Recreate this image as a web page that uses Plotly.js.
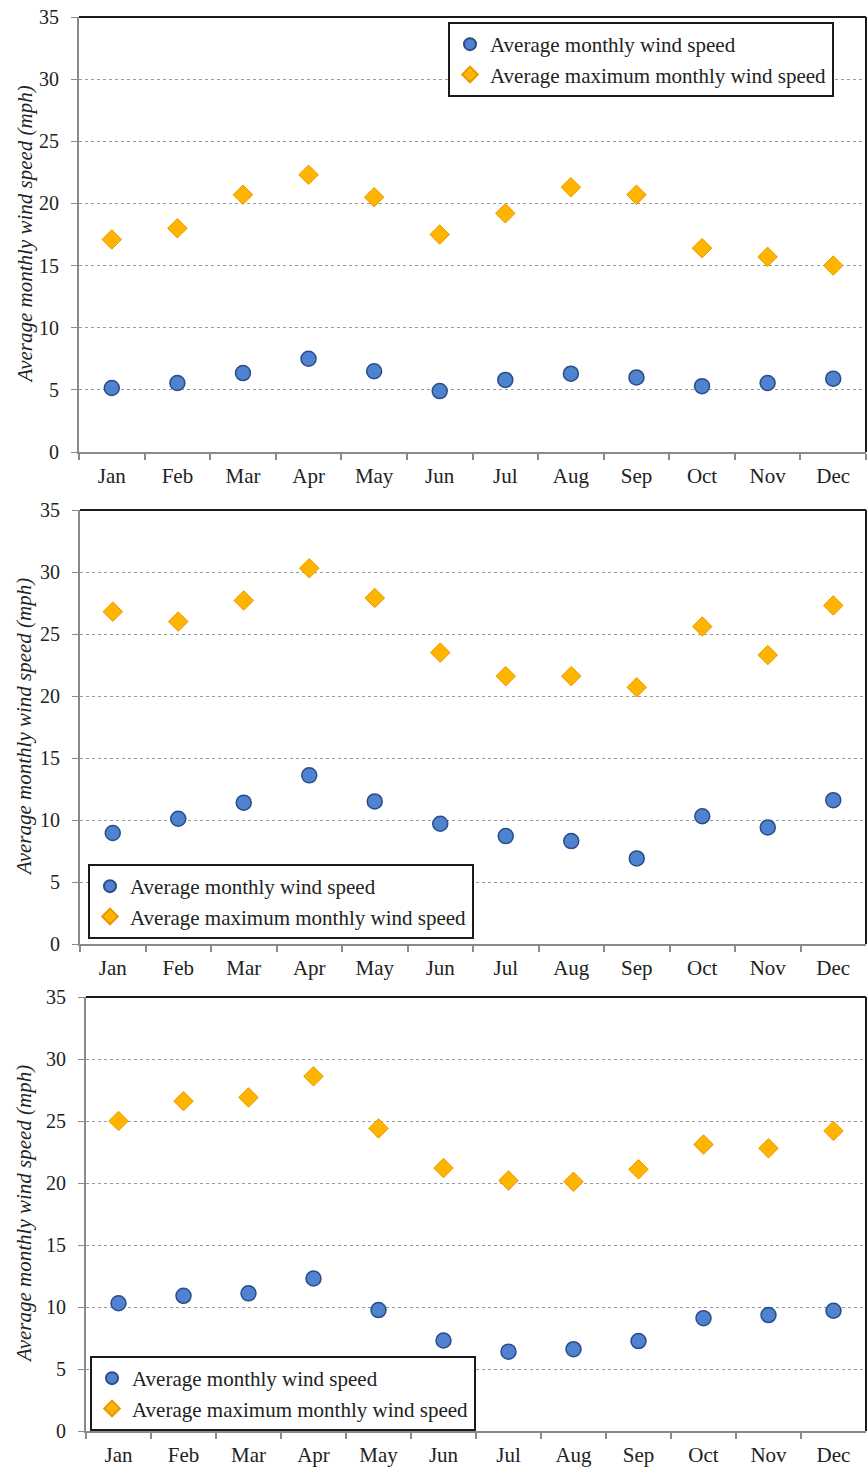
<!DOCTYPE html>
<html>
<head>
<meta charset="utf-8">
<script src="https://cdn.plot.ly/plotly-3.0.1.min.js"></script>
<style>html,body{margin:0;padding:0;background:#fff;}#chart{width:867px;height:1479px;}</style>
</head>
<body>
<div id="chart"></div>
<script>
const months = ["Jan","Feb","Mar","Apr","May","Jun","Jul","Aug","Sep","Oct","Nov","Dec"];
const yTicks = [0,5,10,15,20,25,30,35];
const seriesNames = ["Average monthly wind speed","Average maximum monthly wind speed"];
const yTitle = "Average monthly wind speed (mph)";

const avg1 = [5.15,5.55,6.35,7.5,6.5,4.9,5.8,6.3,6.0,5.3,5.55,5.9];
const max1 = [17.1,18.0,20.7,22.3,20.5,17.5,19.2,21.3,20.7,16.4,15.7,15.0];
const avg2 = [8.95,10.1,11.4,13.6,11.5,9.7,8.7,8.3,6.9,10.3,9.4,11.6];
const max2 = [26.8,26.0,27.7,30.3,27.9,23.5,21.6,21.6,20.7,25.6,23.3,27.3];
const avg3 = [10.3,10.9,11.1,12.3,9.75,7.3,6.4,6.6,7.25,9.1,9.35,9.7];
const max3 = [25.0,26.6,26.9,28.6,24.4,21.2,20.2,20.1,21.1,23.1,22.8,24.2];

const FONT = "Liberation Serif";
const W = 867, H = 1479;
const panels = [
  {avg: avg1, max: max1, left: 79, top: 17, bottom: 452},
  {avg: avg2, max: max2, left: 80, top: 510, bottom: 944},
  {avg: avg3, max: max3, left: 86, top: 997, bottom: 1431}
];
const legendPos = [
  {x: 448, y: 22, yanchor: "top"},
  {x: 88, y: 939, yanchor: "bottom"},
  {x: 90, y: 1431, yanchor: "bottom"}
];

const data = [];
const layout = {
  width: W, height: H,
  margin: {l: 0, r: 0, t: 0, b: 0},
  paper_bgcolor: "#fff", plot_bgcolor: "#fff",
  font: {family: FONT, size: 20, color: "#222"},
  showlegend: true,
  shapes: [], annotations: []
};

panels.forEach((p, i) => {
  const n = i === 0 ? "" : String(i + 1);
  const xa = "x" + n, ya = "y" + n;
  const lg = "legend" + n;
  data.push({
    type: "scatter", mode: "markers", x: months, y: p.avg,
    xaxis: xa, yaxis: ya, name: seriesNames[0], legend: lg, legendgroup: "a" + i,
    marker: {symbol: "circle", size: 15, color: "#4f82d1", line: {color: "#2b4d86", width: 1.5}}
  });
  data.push({
    type: "scatter", mode: "markers", x: months, y: p.max,
    xaxis: xa, yaxis: ya, name: seriesNames[1], legend: lg, legendgroup: "b" + i,
    marker: {symbol: "diamond", size: 15, color: "#ffb400", line: {color: "#e89a00", width: 1}}
  });
  const dom = [1 - p.bottom / H, 1 - p.top / H];
  layout["xaxis" + n] = {
    domain: [p.left / W, 866 / W], anchor: ya,
    type: "category", range: [-0.5, 11.5], fixedrange: true,
    showline: true, linecolor: "#8a8a8a", linewidth: 2,
    ticks: "outside", tickson: "boundaries", ticklen: 6, tickcolor: "#8a8a8a", tickwidth: 2,
    ticklabelstandoff: 4,
    showgrid: false, zeroline: false,
    tickfont: {family: FONT, size: 21, color: "#222"}
  };
  layout["yaxis" + n] = {
    domain: dom, anchor: xa, range: [0, 35], tickvals: yTicks, fixedrange: true,
    showline: true, linecolor: "#8a8a8a", linewidth: 2,
    ticks: "outside", ticklen: 6, tickcolor: "#8a8a8a", tickwidth: 1,
    ticklabelstandoff: 8,
    showgrid: true, gridcolor: "#9a9a9a", griddash: "dot", gridwidth: 1,
    zeroline: false,
    tickfont: {family: FONT, size: 20, color: "#222"}
  };
  layout.shapes.push({type: "line", xref: xa + " domain", yref: ya + " domain", x0: 0, x1: 1, y0: 1, y1: 1, line: {color: "#1a1a1a", width: 2}});
  layout.shapes.push({type: "line", xref: xa + " domain", yref: ya + " domain", x0: 1, x1: 1, y0: 0, y1: 1, line: {color: "#1a1a1a", width: 2}});
  layout.annotations.push({
    xref: "paper", yref: "paper", x: 24 / W, y: (dom[0] + dom[1]) / 2,
    xanchor: "center", yanchor: "middle", textangle: -90, showarrow: false,
    text: yTitle, font: {family: FONT, size: 21, color: "#222", style: "italic"}
  });
  const lp = legendPos[i];
  layout[lg] = {
    x: lp.x / W, y: 1 - lp.y / H, xanchor: "left", yanchor: lp.yanchor,
    xref: "paper", yref: "paper",
    bgcolor: "#fff", bordercolor: "#1a1a1a", borderwidth: 2,
    font: {family: FONT, size: 21, color: "#222"},
    itemsizing: "constant", tracegroupgap: 16, traceorder: "normal"
  };
});

Plotly.newPlot("chart", data, layout, {staticPlot: true, displayModeBar: false});
</script>
</body>
</html>
